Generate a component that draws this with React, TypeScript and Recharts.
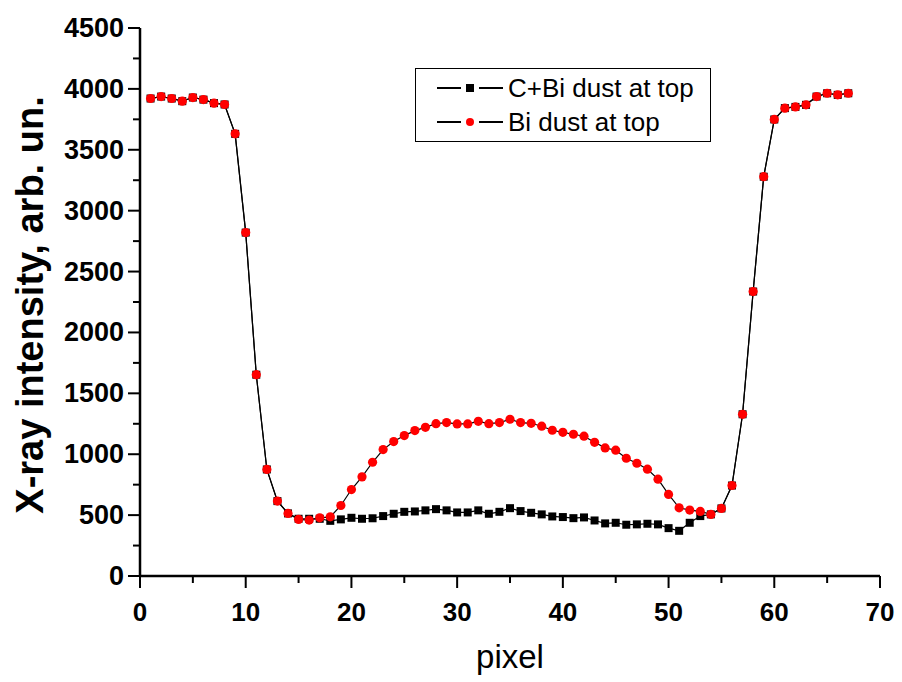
import React from 'react';
import { LineChart, Line, XAxis, YAxis, Label } from 'recharts';

const pixels = [
  1, 2, 3, 4, 5, 6, 7, 8, 9, 10, 11, 12, 13, 14, 15, 16, 17, 18, 19, 20,
  21, 22, 23, 24, 25, 26, 27, 28, 29, 30, 31, 32, 33, 34, 35, 36, 37, 38, 39, 40,
  41, 42, 43, 44, 45, 46, 47, 48, 49, 50, 51, 52, 53, 54, 55, 56, 57, 58, 59, 60,
  61, 62, 63, 64, 65, 66, 67,
];

// C+Bi dust at top (black squares)
const cbiValues = [
  3921, 3937, 3921, 3899, 3929, 3912, 3883, 3872, 3631, 2820, 1653, 875, 615, 514, 470, 470, 470, 453, 465, 478,
  470, 474, 492, 511, 527, 530, 539, 549, 539, 522, 522, 539, 511, 527, 557, 533, 519, 506, 489, 484,
  475, 481, 456, 432, 437, 421, 424, 429, 424, 393, 371, 437, 492, 506, 555, 743, 1328, 2336, 3279, 3749,
  3842, 3852, 3869, 3937, 3964, 3951, 3964,
];

// Bi dust at top (red circles)
const biValues = [
  3921, 3937, 3921, 3899, 3929, 3912, 3883, 3872, 3631, 2820, 1653, 875, 615, 514, 465, 459, 478, 486, 579, 710,
  814, 934, 1038, 1104, 1153, 1194, 1221, 1251, 1260, 1249, 1249, 1270, 1251, 1260, 1287, 1260, 1254, 1230, 1197, 1180,
  1164, 1148, 1098, 1052, 1033, 967, 926, 877, 795, 670, 560, 541, 530, 506, 555, 743, 1328, 2336, 3279, 3749,
  3842, 3852, 3869, 3937, 3964, 3951, 3964,
];

const xTicks = [0, 5, 10, 15, 20, 25, 30, 35, 40, 45, 50, 55, 60, 65, 70];
const yTicks = [0, 250, 500, 750, 1000, 1250, 1500, 1750, 2000, 2250, 2500, 2750, 3000, 3250, 3500, 3750, 4000, 4250, 4500];

const data = pixels.map((p, i) => ({ pixel: p, cbi: cbiValues[i], bi: biValues[i] }));

const FONT = "Arial, 'Liberation Sans', sans-serif";

const YTick = (props: any) => {
  const { x, y, payload } = props;
  const major = payload.value % 500 === 0;
  return (
    <g>
      <line x1={x} x2={x - (major ? 12 : 7)} y1={y} y2={y} stroke="#000" strokeWidth={2} />
      {major && (
        <text x={x - 16} y={y} textAnchor="end" dominantBaseline="central"
          fontFamily={FONT} fontWeight="bold" fontSize={27} fill="#000">
          {payload.value}
        </text>
      )}
    </g>
  );
};

const XTick = (props: any) => {
  const { x, y, payload } = props;
  const major = payload.value % 10 === 0;
  return (
    <g>
      <line x1={x} x2={x} y1={y} y2={y + (major ? 12 : 7)} stroke="#000" strokeWidth={2} />
      {major && (
        <text x={x} y={y + 45} textAnchor="middle"
          fontFamily={FONT} fontWeight="bold" fontSize={26} fill="#000">
          {payload.value}
        </text>
      )}
    </g>
  );
};

const squareDot = (props: any) => {
  const { cx, cy, index } = props;
  return <rect key={`sq-${index}`} x={cx - 4} y={cy - 4} width={8} height={8} fill="#000" />;
};

const circleDot = (props: any) => {
  const { cx, cy, index } = props;
  return <circle key={`ci-${index}`} cx={cx} cy={cy} r={4.6} fill="#ff0000" />;
};

export default function App() {
  return (
    <div style={{ position: 'absolute', left: 0, top: 0, width: 902, height: 682, background: '#fff' }}>
      <LineChart width={902} height={682} data={data} margin={{ top: 28, right: 22, left: 80, bottom: 76 }}>
        <XAxis
          dataKey="pixel"
          type="number"
          domain={[0, 70]}
          ticks={xTicks}
          interval={0}
          tickSize={0}
          tickMargin={0}
          tickLine={false}
          tick={<XTick />}
          axisLine={{ stroke: '#000', strokeWidth: 2.5 }}
          height={30}
        >
          <Label
            content={() => (
              <text x={510} y={668} textAnchor="middle" fontFamily={FONT} fontSize={33} fill="#000">
                pixel
              </text>
            )}
          />
        </XAxis>
        <YAxis
          type="number"
          domain={[0, 4500]}
          ticks={yTicks}
          interval={0}
          tickSize={0}
          tickMargin={0}
          tickLine={false}
          tick={<YTick />}
          axisLine={{ stroke: '#000', strokeWidth: 2.5 }}
          width={60}
        >
          <Label
            content={() => (
              <text x={43} y={305} transform="rotate(-90 43 305)" textAnchor="middle"
                fontFamily={FONT} fontWeight="bold" fontSize={38} fill="#000">
                X-ray intensity, arb. un.
              </text>
            )}
          />
        </YAxis>
        <Line dataKey="cbi" stroke="#000" strokeWidth={1.2} dot={squareDot} activeDot={false} isAnimationActive={false} />
        <Line dataKey="bi" stroke="#000" strokeWidth={1.2} dot={circleDot} activeDot={false} isAnimationActive={false} />
      </LineChart>
      <div
        style={{
          position: 'absolute', left: 415, top: 68, width: 294, height: 72,
          border: '1.5px solid #000', fontFamily: FONT, fontSize: 26, color: '#000',
        }}
      >
        {[
          { name: 'C+Bi dust at top', marker: <div style={{ width: 8, height: 8, background: '#000' }} /> },
          { name: 'Bi dust at top', marker: <div style={{ width: 8, height: 8, borderRadius: 4, background: '#f00' }} /> },
        ].map((item, i) => (
          <div key={i} style={{ position: 'absolute', left: 21, top: i === 0 ? 3 : 37, height: 32, display: 'flex', alignItems: 'center' }}>
            <div style={{ width: 24, height: 1.2, background: '#000' }} />
            <div style={{ width: 18, display: 'flex', justifyContent: 'center' }}>{item.marker}</div>
            <div style={{ width: 24, height: 1.2, background: '#000' }} />
            <span style={{ marginLeft: 5, lineHeight: '32px' }}>{item.name}</span>
          </div>
        ))}
      </div>
    </div>
  );
}
